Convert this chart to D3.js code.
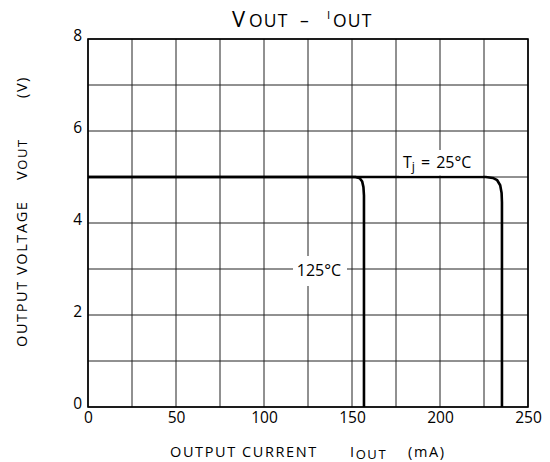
<!DOCTYPE html>
<html>
<head>
<meta charset="utf-8">
<script src="https://cdn.jsdelivr.net/npm/d3@7"></script>
<style>
  body { margin: 0; background: #fff; }
  svg { display: block; font-family: "Open Sans", "DejaVu Sans", sans-serif; }
</style>
</head>
<body>
<svg id="chart" width="550" height="462"></svg>
<script>
// ---- data ----
const xTicks = [0, 50, 100, 150, 200, 250];
const yTicks = [0, 2, 4, 6, 8];
const xGrid = [0, 25, 50, 75, 100, 125, 150, 175, 200, 225, 250];
const yGrid = [0, 1, 2, 3, 4, 5, 6, 7, 8];
// Tj = 25°C curve (mA, V)
const curve25I = [0, 226, 230, 232.5, 234.2, 235, 235.2, 235.2];
const curve25V = [5.0, 5.0, 4.98, 4.93, 4.82, 4.65, 4.45, 0];
// Tj = 125°C curve (mA, V)
const curve125I = [0, 152, 154.5, 155.8, 156.5, 156.8, 156.8];
const curve125V = [5.0, 5.0, 4.97, 4.9, 4.78, 4.6, 0];
const labels = { t25: "25°C", t125: "125°C" };

const svg = d3.select("#chart");
const W = 550, H = 462;
const m = { left: 88, right: 22, top: 39, bottom: 55 };
const x = d3.scaleLinear().domain([0, 250]).range([m.left, W - m.right]);
const y = d3.scaleLinear().domain([0, 8]).range([H - m.bottom, m.top]);

// grid
const g = svg.append("g");
g.selectAll(".vg").data(xGrid).join("line")
  .attr("x1", d => x(d)).attr("x2", d => x(d))
  .attr("y1", y(0)).attr("y2", y(8))
  .attr("stroke", "#222").attr("stroke-width", 1);
g.selectAll(".hg").data(yGrid).join("line")
  .attr("y1", d => y(d)).attr("y2", d => y(d))
  .attr("x1", x(0)).attr("x2", x(250))
  .attr("stroke", "#222").attr("stroke-width", 1);

// frame
svg.append("rect")
  .attr("x", x(0)).attr("y", y(8))
  .attr("width", x(250) - x(0)).attr("height", y(0) - y(8))
  .attr("fill", "none").attr("stroke", "#000").attr("stroke-width", 1.6);

// axes (tick labels only)
const xAxis = d3.axisBottom(x).tickValues(xTicks).tickSize(0).tickPadding(5);
const xa = svg.append("g").attr("transform", `translate(0,${y(0)})`).call(xAxis);
xa.select(".domain").remove();
xa.selectAll("text").attr("font-size", 15.5).attr("fill", "#000")
  .attr("font-family", "'Open Sans', sans-serif");

const yAxis = d3.axisLeft(y).tickValues(yTicks).tickSize(0).tickPadding(6);
const ya = svg.append("g").attr("transform", `translate(${x(0)},0)`).call(yAxis);
ya.select(".domain").remove();
ya.selectAll("text").attr("font-size", 15.5).attr("fill", "#000")
  .attr("font-family", "'Open Sans', sans-serif").attr("dy", "0.1em");

// curves
const line = d3.line().x(d => x(d[0])).y(d => y(d[1]));
const c25 = curve25I.map((v, i) => [v, curve25V[i]]);
const c125 = curve125I.map((v, i) => [v, curve125V[i]]);
[c25, c125].forEach(c => {
  svg.append("path").attr("d", line(c))
    .attr("fill", "none").attr("stroke", "#000")
    .attr("stroke-width", 2.6).attr("stroke-linejoin", "round");
});

// label boxes
svg.append("rect").attr("x", 293).attr("y", 256).attr("width", 54).attr("height", 30).attr("fill", "#fff");
svg.append("text").attr("x", 319).attr("y", 276).attr("text-anchor", "middle")
  .attr("font-size", 16).text(labels.t125);

svg.append("rect").attr("x", 399).attr("y", 150).attr("width", 84).attr("height", 25.5).attr("fill", "#fff");
const tj = svg.append("text").attr("x", 403).attr("y", 168).attr("font-size", 16);
tj.append("tspan").text("T");
tj.append("tspan").attr("font-size", 12.5).attr("dy", 3).text("j");
tj.append("tspan").attr("dy", -3).attr("dx", 6).text("=");
tj.append("tspan").attr("dx", 6).text(labels.t25);

// title
const t = svg.append("text").attr("y", 27).attr("font-size", 17.5);
t.append("tspan").attr("x", 232).attr("font-size", 22).text("V");
t.append("tspan").attr("x", 249).attr("letter-spacing", 1.2).text("OUT");
t.append("tspan").attr("x", 300).text("–");
t.append("tspan").attr("x", 327).attr("y", 19).attr("font-size", 11.5).text("I");
t.append("tspan").attr("x", 333).attr("y", 27).attr("letter-spacing", 1.2).text("OUT");

// y label
const yl = svg.append("text").attr("transform", "rotate(-90)").attr("y", 27)
  .attr("font-size", 14.5).attr("letter-spacing", 1.6);
yl.append("tspan").attr("x", -347).text("OUTPUT VOLTAGE");
yl.append("tspan").attr("x", -180).text("V");
yl.append("tspan").attr("font-size", 13).text("OUT");
yl.append("tspan").attr("x", -98).text("(V)");

// x label
const xl = svg.append("text").attr("y", 457).attr("font-size", 14.5).attr("letter-spacing", 1.6);
xl.append("tspan").attr("x", 170).text("OUTPUT CURRENT");
xl.append("tspan").attr("x", 350).text("I");
xl.append("tspan").attr("font-size", 13).attr("dy", 2).text("OUT");
xl.append("tspan").attr("x", 408).attr("dy", -2).text("(mA)");
</script>
</body>
</html>
